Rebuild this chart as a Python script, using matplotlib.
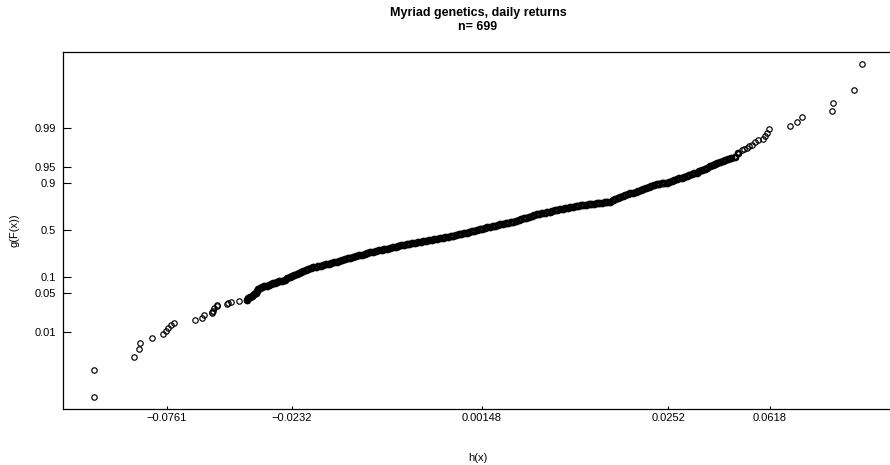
import matplotlib
matplotlib.use("Agg")
import matplotlib.pyplot as plt

plt.rcParams['font.family'] = ['Liberation Sans', 'DejaVu Sans']

# values of h(x) and g(F(x)) (arbitrary transform units)
lower_h = [-19.4, -19.4, -17.42, -17.14, -17.12, -16.5, -15.97, -15.79, -15.72, -15.54,
           -15.39, -14.34, -13.99, -13.89, -13.52, -13.48, -13.45, -13.4, -13.27, -13.23,
           -12.77, -12.68, -12.57, -12.17]
lower_g = [-8.34, -6.99, -6.37, -5.97, -5.65, -5.4, -5.2, -5.04, -4.9, -4.74,
           -4.64, -4.52, -4.39, -4.27, -4.17, -4.08, -4.04, -3.92, -3.79, -3.75,
           -3.7, -3.65, -3.6, -3.53]

body_h = [-11.77, -11.69, -11.6, -11.5, -11.4, -11.3, -11.25, -11.19, -11.1, -11.02,
          -10.89, -10.77, -10.65, -10.54, -10.44, -10.35, -10.27, -10.13, -9.99, -9.85,
          -9.73, -9.6, -9.49, -9.38, -9.27, -9.15, -9.05, -8.94, -8.81, -8.69,
          -8.56, -8.44, -8.31, -8.19, -8.06, -7.94, -7.8, -7.67, -7.54, -7.4,
          -7.27, -7.13, -6.99, -6.85, -6.71, -6.58, -6.44, -6.29, -6.15, -6.01,
          -5.87, -5.73, -5.58, -5.44, -5.3, -5.16, -5.02, -4.88, -4.74, -4.6,
          -4.46, -4.32, -4.18, -4.05, -3.91, -3.77, -3.63, -3.49, -3.35, -3.21,
          -3.07, -2.94, -2.8, -2.66, -2.52, -2.38, -2.24, -2.1, -1.97, -1.84,
          -1.7, -1.57, -1.44, -1.3, -1.17, -1.03, -0.9, -0.77, -0.64, -0.51,
          -0.38, -0.25, -0.12, 0.01, 0.14, 0.27, 0.4, 0.53, 0.66, 0.79,
          0.92, 1.05, 1.18, 1.31, 1.44, 1.57, 1.7, 1.83, 1.96, 2.09,
          2.22, 2.35, 2.48, 2.61, 2.74, 2.87, 3.0, 3.13, 3.26, 3.38,
          3.51, 3.64, 3.77, 3.9, 4.03, 4.16, 4.29, 4.42, 4.55, 4.68,
          4.81, 4.94, 5.07, 5.2, 5.33, 5.47, 5.6, 5.74, 5.87, 6.0,
          6.14, 6.27, 6.4, 6.53, 6.65, 6.78, 6.9, 7.03, 7.16, 7.29,
          7.42, 7.55, 7.68, 7.81, 7.94, 8.07, 8.2, 8.34, 8.47, 8.6,
          8.74, 8.86, 8.99, 9.11, 9.24, 9.36, 9.49, 9.61, 9.74, 9.86,
          9.99, 10.11, 10.24, 10.36, 10.49, 10.61, 10.74, 10.87, 11.0, 11.14,
          11.27, 11.4, 11.53, 11.65, 11.78, 11.9, 12.04, 12.18, 12.32, 12.48,
          12.65, 12.82]
body_g = [-3.48, -3.41, -3.34, -3.28, -3.22, -3.17, -3.07, -2.97, -2.9, -2.84,
          -2.81, -2.79, -2.75, -2.71, -2.67, -2.63, -2.59, -2.56, -2.53, -2.5,
          -2.42, -2.34, -2.29, -2.25, -2.2, -2.15, -2.09, -2.04, -2.0, -1.95,
          -1.91, -1.87, -1.84, -1.81, -1.78, -1.75, -1.72, -1.69, -1.65, -1.62,
          -1.59, -1.55, -1.5, -1.46, -1.42, -1.38, -1.34, -1.3, -1.27, -1.23,
          -1.2, -1.16, -1.12, -1.09, -1.06, -1.02, -0.99, -0.96, -0.93, -0.9,
          -0.86, -0.83, -0.8, -0.77, -0.73, -0.7, -0.68, -0.66, -0.63, -0.61,
          -0.58, -0.56, -0.54, -0.51, -0.49, -0.47, -0.44, -0.42, -0.39, -0.36,
          -0.33, -0.31, -0.28, -0.25, -0.22, -0.19, -0.17, -0.14, -0.1, -0.07,
          -0.04, 0.0, 0.03, 0.07, 0.1, 0.13, 0.17, 0.2, 0.22, 0.25,
          0.28, 0.31, 0.33, 0.36, 0.39, 0.42, 0.46, 0.5, 0.54, 0.58,
          0.62, 0.66, 0.7, 0.74, 0.78, 0.81, 0.84, 0.86, 0.89, 0.92,
          0.95, 0.98, 1.01, 1.04, 1.06, 1.09, 1.11, 1.13, 1.16, 1.18,
          1.21, 1.23, 1.25, 1.27, 1.29, 1.3, 1.32, 1.33, 1.35, 1.37,
          1.38, 1.4, 1.42, 1.48, 1.54, 1.61, 1.67, 1.71, 1.75, 1.79,
          1.83, 1.87, 1.91, 1.95, 2.0, 2.04, 2.09, 2.14, 2.19, 2.24,
          2.29, 2.31, 2.33, 2.35, 2.37, 2.41, 2.45, 2.49, 2.54, 2.58,
          2.62, 2.66, 2.7, 2.74, 2.78, 2.83, 2.87, 2.93, 2.99, 3.05,
          3.12, 3.18, 3.24, 3.3, 3.36, 3.42, 3.46, 3.5, 3.54, 3.6,
          3.67, 3.84]

upper_h = [12.99, 13.1, 13.24, 13.35, 13.49, 13.65, 13.8, 14.07, 14.15, 14.24,
           14.37, 15.4, 15.74, 16.02, 17.52, 17.54, 18.6, 18.99]
upper_g = [4.0, 4.05, 4.09, 4.18, 4.25, 4.42, 4.48, 4.54, 4.7, 4.87,
           5.04, 5.22, 5.42, 5.67, 5.97, 6.37, 6.99, 8.32]

x_tick_pos = [-15.77, -9.52, 0.0, 9.32, 14.4]
x_tick_lab = ['\u22120.0761', '\u22120.0232', '0.00148', '0.0252', '0.0618']
y_tick_pos = [-5.115, -3.15, -2.335, 0.0, 2.335, 3.165, 5.115]
y_tick_lab = ['0.01', '0.05', '0.1', '0.5', '0.9', '0.95', '0.99']

fig = plt.figure(figsize=(8.9, 4.65), dpi=100)
ax = fig.add_axes([0.0708, 0.1198, 0.9322, 0.7684])

# tails: separate circles; body: heavily overplotted in the original, so it
# is drawn with a heavier outline to give the same solid band
ax.plot(lower_h, lower_g, 'o', ls='none', ms=3.9, mfc='none', mec='black', mew=0.85)
ax.plot(upper_h, upper_g, 'o', ls='none', ms=3.9, mfc='none', mec='black', mew=0.85)
ax.plot(body_h, body_g, 'o', ls='none', ms=3.7, mfc='none', mec='black', mew=1.9)

ax.set_xlim(-20.95, 20.54)
ax.set_ylim(-8.965, 8.9)
ax.set_xticks(x_tick_pos)
ax.set_xticklabels(x_tick_lab)
ax.set_yticks(y_tick_pos)
ax.set_yticklabels(y_tick_lab)
ax.tick_params(axis='x', direction='in', length=2.4, width=0.8, labelsize=8, pad=3)
ax.tick_params(axis='y', direction='in', length=6, width=0.8, labelsize=8, pad=5)
for s in ax.spines.values():
    s.set_linewidth(0.9)
    s.set_color('black')

fig.text(0.0168, 0.505, 'g(F(x))', rotation=90, ha='center', va='center', fontsize=8)
fig.text(0.537, 0.015, 'h(x)', ha='center', va='center', fontsize=8)
fig.text(0.537, 1 - 13 / 465, 'Myriad genetics, daily returns', ha='center', va='center',
         fontsize=9, fontweight='bold')
fig.text(0.537, 1 - 27 / 465, 'n= 699', ha='center', va='center', fontsize=9, fontweight='bold')

fig.savefig('out.png', dpi=100)
